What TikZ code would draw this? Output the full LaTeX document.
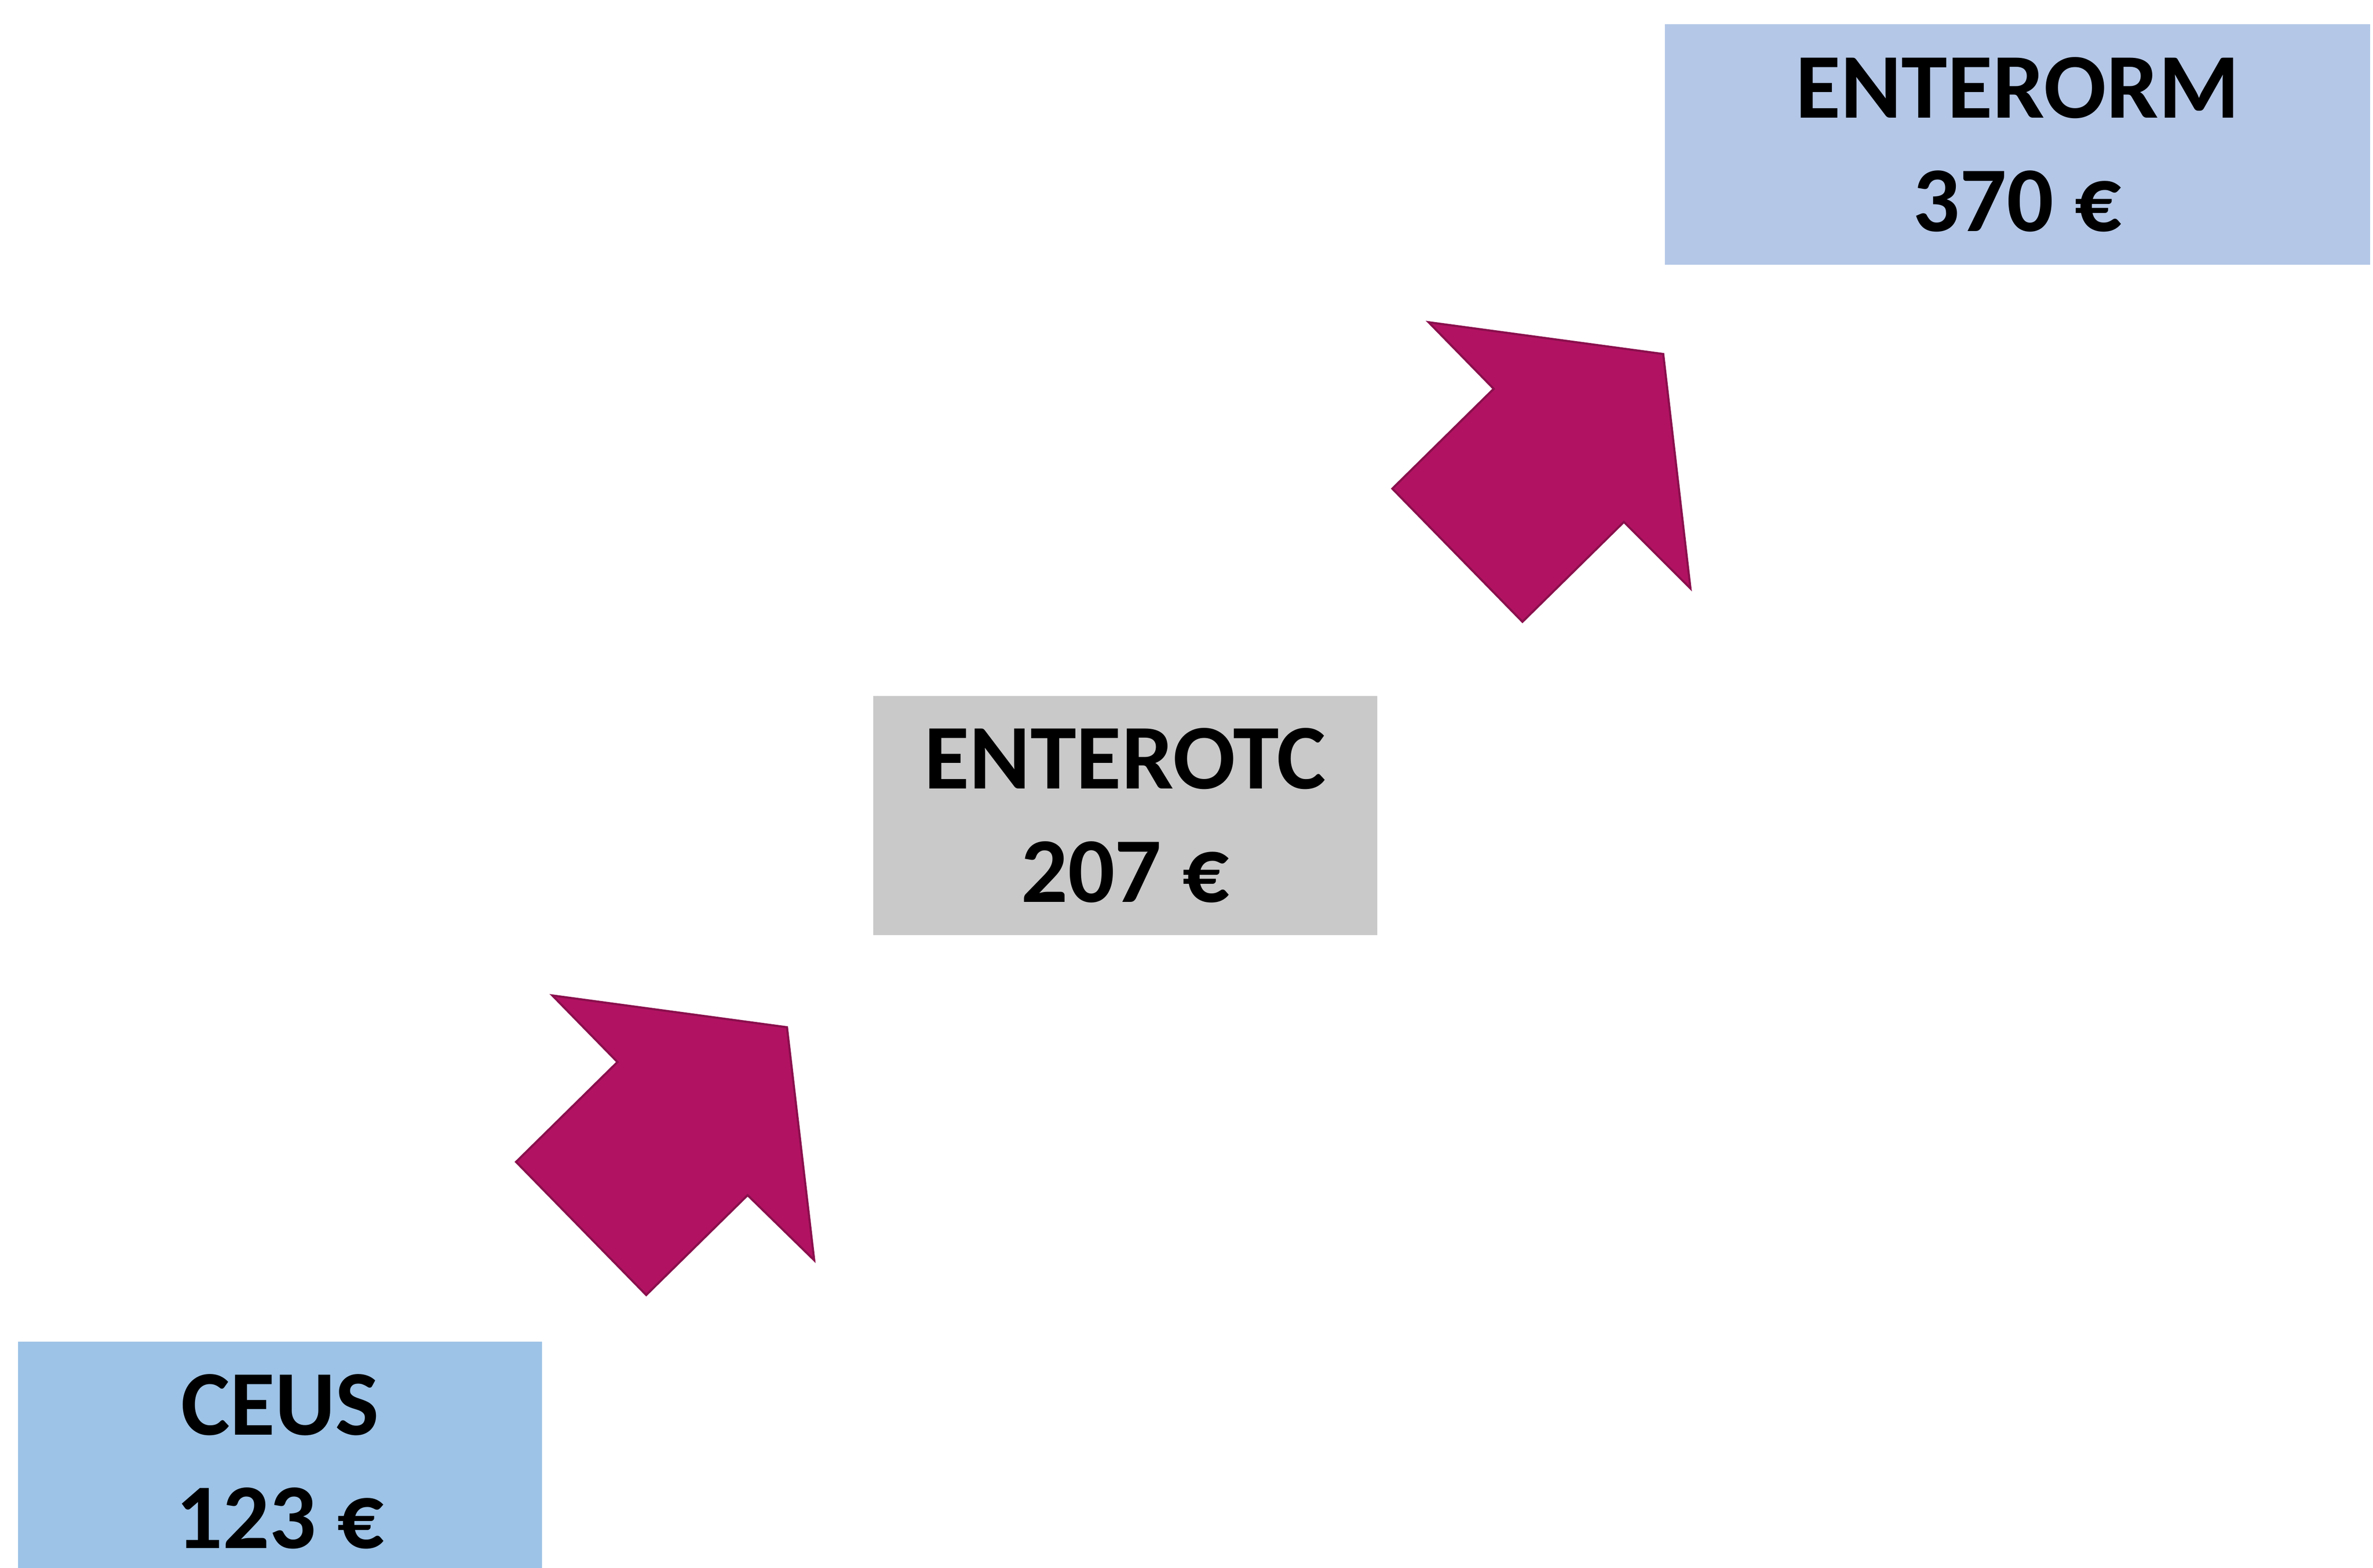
\documentclass[tikz,border=0pt]{standalone}
\usepackage{fontspec}
\setmainfont{Carlito}
\definecolor{boxblue}{HTML}{9DC3E6}
\definecolor{boxgray}{HTML}{C9C9C9}
\definecolor{boxlav}{HTML}{B4C7E7}
\definecolor{arrfill}{HTML}{B21262}
\definecolor{arrdraw}{HTML}{8A0F4D}
\tikzset{
  pricebox/.style={rectangle, draw=none, inner sep=0pt, align=center,
    font=\fontsize{17.4pt}{21.3pt}\selectfont\bfseries},
  bigarrow/.style={fill=arrfill, draw=arrdraw, line width=0.4pt, line join=miter}
}
\begin{document}
\begin{tikzpicture}[x=0.1mm,y=-0.1mm]
\useasboundingbox (0,0) rectangle (1568,1036.2);
\fill[white] (0,0) rectangle (1568,1036.2);
% boxes
\node[pricebox, fill=boxblue, minimum width=34.6mm, minimum height=15.8mm] (ceus) at (185,966) {CEUS\\123 €};
\node[pricebox, fill=boxgray, minimum width=33.3mm, minimum height=15.8mm] (tc) at (743.5,539) {ENTEROTC\\207 €};
\node[pricebox, fill=boxlav, minimum width=46.6mm, minimum height=15.9mm] (rm) at (1333,95.5) {ENTERORM\\370 €};
% arrows
\draw[bigarrow] (365,658) -- (520,679) -- (538,833) -- (494,790) -- (427,856) -- (341,768) -- (408,702) -- cycle;
\draw[bigarrow] (944,213) -- (1099,234) -- (1117,389) -- (1073,345) -- (1006,411) -- (920,323) -- (987,257) -- cycle;
\end{tikzpicture}
\end{document}
